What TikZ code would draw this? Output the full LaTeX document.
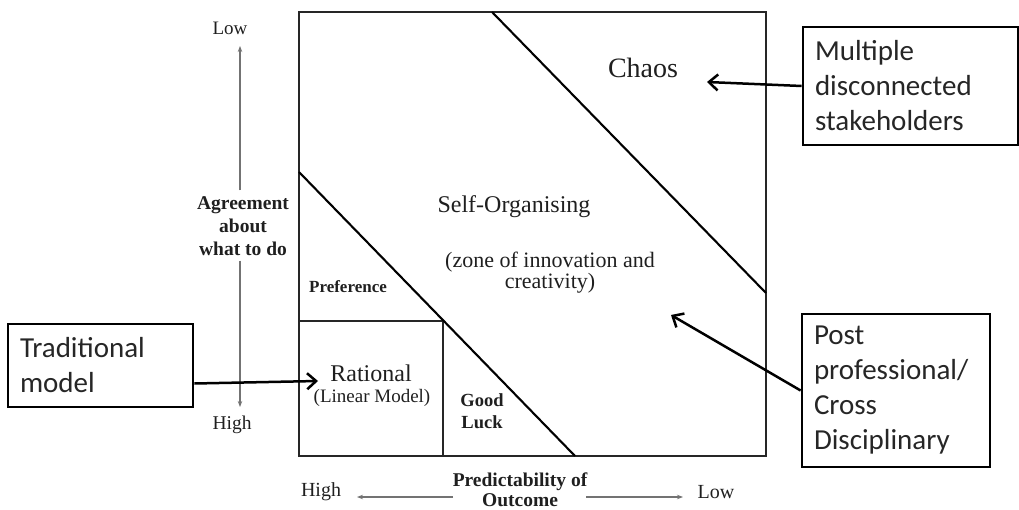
\documentclass[tikz,border=0pt]{standalone}
\usepackage{fontspec}
\setmainfont{Liberation Serif}
\newfontfamily\calibfont{Carlito}
\usetikzlibrary{arrows.meta}
\begin{document}
\begin{tikzpicture}[x=1pt,y=-1pt,
  lbl/.style={inner sep=0pt, text=black!88, align=center},
  callout/.style={draw=black, line width=2.8pt, inner xsep=12pt, inner ysep=0pt, align=left, text=black!85, font=\calibfont\fontsize{29}{35}\selectfont},
  pointer/.style={line width=2.5pt, -{Straight Barb[length=9pt,width=16pt,line width=2.5pt]}},
  axarrow/.style={line width=1.1pt, draw=black!55, -{Stealth[length=6pt,width=4.5pt]}},
  frame/.style={line width=1.6pt, draw=black!85},
  diag/.style={line width=2.1pt, draw=black}]
\useasboundingbox (0,0) rectangle (1019,510);
% main square and regions
\draw[frame] (299,12) rectangle (766,456);
\draw[frame] (299,321) -| (443,456);
\draw[diag] (299,172) -- (575,456);
\draw[diag] (492,12) -- (766,293);
% region labels
\node[lbl, font=\fontsize{28}{30}\selectfont] (chaos) at (643,68) {Chaos};
\node[lbl, font=\fontsize{24}{26}\selectfont] (self) at (514,207) {Self-Organising};
\node[lbl, font=\fontsize{22}{21}\selectfont] (zone) at (550,273) {(zone of innovation and\\creativity)};
\node[lbl, font=\fontsize{24}{26}\selectfont] (rational) at (371,373) {Rational};
\node[lbl, font=\fontsize{19}{21}\selectfont] (linear) at (372,398) {(Linear Model)};
\node[lbl, font=\bfseries\fontsize{17}{18}\selectfont] (pref) at (348,287) {Preference};
\node[lbl, font=\bfseries\fontsize{18.5}{22}\selectfont] (luck) at (482,411) {Good\\Luck};
% vertical axis
\node[lbl, font=\bfseries\fontsize{19.5}{23}\selectfont] (agree) at (243,226) {Agreement\\about\\what to do};
\node[lbl, font=\fontsize{19}{21}\selectfont] (vlow) at (230,28) {Low};
\node[lbl, font=\fontsize{19.5}{21}\selectfont] (vhigh) at (232,425) {High};
\coordinate (vtop) at (240,46);
\coordinate (vbot) at (240,407);
\draw[axarrow] (agree.north -| vtop) ++(0,-6) -- (vtop);
\draw[axarrow] (agree.south -| vbot) ++(0,5) -- (vbot);
% horizontal axis
\node[lbl, font=\bfseries\fontsize{19.5}{20}\selectfont] (pred) at (520,490) {Predictability of\\Outcome};
\node[lbl, font=\fontsize{20}{22}\selectfont] (hhigh) at (321,492) {High};
\node[lbl, font=\fontsize{20}{22}\selectfont] (hlow) at (716,492) {Low};
\coordinate (hleft) at (357,497);
\coordinate (hright) at (683,497);
\draw[axarrow] (453,497) -- (hleft);
\draw[axarrow] (586,497) -- (hright);
% callouts
\node[callout, minimum width=185pt, minimum height=83pt, text width=161pt] (trad) at (100.5,365.5) {Traditional\\model};
\node[callout, minimum width=215pt, minimum height=118pt, text width=191pt] (mult) at (910.5,86) {Multiple\\disconnected\\stakeholders};
\node[callout, minimum width=188pt, minimum height=153pt, text width=164pt] (post) at (896,390.5) {Post\\professional/\\Cross\\Disciplinary};
\coordinate (tradTip) at (318,381);
\coordinate (multTip) at (707,82);
\coordinate (postTip) at (671,315);
\draw[pointer] ([yshift=-18pt]trad.east) -- (tradTip);
\draw[pointer] (mult.west) -- (multTip);
\draw[pointer] (post.west) -- (postTip);
\end{tikzpicture}
\end{document}
